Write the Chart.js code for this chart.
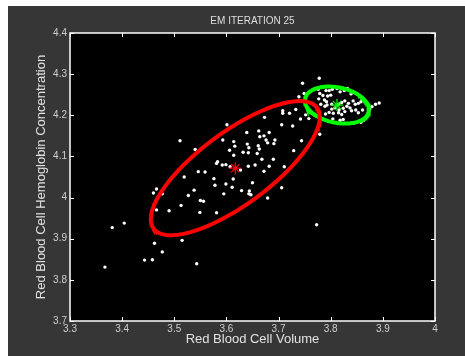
<!DOCTYPE html>
<html>
<head>
<meta charset="utf-8">
<script src="https://cdn.jsdelivr.net/npm/chart.js@4/dist/chart.umd.min.js"></script>
<style>
html,body{margin:0;padding:0;background:#fff;}
canvas{display:block;}
</style>
</head>
<body>
<canvas id="c" width="465" height="356"></canvas>
<script>
// ---- data ----
const chartTitle = 'EM ITERATION 25';
const xAxisTitle = 'Red Blood Cell Volume';
const yAxisTitle = 'Red Blood Cell Hemoglobin Concentration';
const xTicks = [3.3, 3.4, 3.5, 3.6, 3.7, 3.8, 3.9, 4.0];
const yTicks = [3.7, 3.8, 3.9, 4.0, 4.1, 4.2, 4.3, 4.4];

const volume = [
 3.511,3.540,3.601,3.639,3.662,3.593,3.614,3.616,3.606,3.614,3.632,3.640,3.643,3.642,3.661,3.663,3.659,
 3.583,3.581,3.592,3.599,3.607,3.627,3.642,3.655,3.519,3.546,3.559,3.576,3.613,3.673,3.708,3.708,3.721,
 3.733,3.742,3.752,3.739,3.706,3.727,3.744,3.682,3.664,3.672,3.676,3.679,3.693,3.691,3.668,3.690,3.729,
 3.682,3.711,3.672,3.599,3.578,3.611,3.629,3.644,3.643,3.647,3.650,3.595,3.538,3.527,3.466,3.460,3.477,
 3.550,3.556,3.513,3.490,3.466,3.549,3.581,3.404,3.381,3.515,3.462,3.477,3.443,3.458,3.543,3.367,3.679,
 3.706,3.773,3.779,3.758,
 3.746,3.778,3.749,3.783,3.893,3.858,3.863,
 3.776,3.791,3.797,3.803,3.812,3.818,3.826,3.832,3.839,3.779,3.785,3.794,3.800,3.777,3.788,3.792,3.781,
 3.789,3.793,3.802,3.815,3.821,3.827,3.834,3.843,3.847,3.853,3.858,3.831,3.837,3.824,3.816,3.802,3.808,
 3.797,3.805,3.815,3.821,3.827,3.840,3.848,3.853,3.818,3.824,3.790,3.804,3.861,3.875,3.879,3.886,3.873,
 3.871,3.866
];
const hemoglobin = [
 4.138,4.117,4.177,4.158,4.162,4.140,4.136,4.125,4.115,4.103,4.110,4.130,4.121,4.109,4.126,4.118,4.107,
 4.087,4.083,4.079,4.080,4.075,4.067,4.076,4.079,4.050,4.063,4.062,4.046,4.045,4.195,4.211,4.205,4.205,
 4.214,4.191,4.201,4.245,4.177,4.174,4.138,4.158,4.148,4.150,4.140,4.133,4.140,4.131,4.093,4.093,4.114,
 4.076,4.075,4.064,4.033,4.030,4.025,4.017,4.016,4.009,4.007,4.036,4.009,4.018,4.005,4.021,4.011,4.009,
 3.993,3.991,3.981,3.968,3.970,3.964,3.963,3.938,3.927,3.896,3.889,3.868,3.848,3.849,3.839,3.831,3.999,
 4.024,3.934,4.154,4.192,
 4.278,4.290,4.253,4.269,4.230,4.183,4.188,
 4.263,4.260,4.260,4.263,4.265,4.257,4.260,4.265,4.252,4.253,4.248,4.247,4.249,4.240,4.237,4.233,4.227,
 4.222,4.225,4.227,4.227,4.231,4.235,4.229,4.235,4.227,4.229,4.233,4.222,4.218,4.217,4.213,4.215,4.218,
 4.207,4.205,4.206,4.202,4.209,4.211,4.213,4.206,4.188,4.190,4.203,4.191,4.213,4.215,4.221,4.227,4.209,
 4.204,4.192
];

// fitted Gaussian components (mean, spread along x/y, correlation)
const redMean = [3.617, 4.0715];
const redSpread = [0.162, 0.163];
const redCorr = 0.761;
const greenMean = [3.812, 4.2248];
const greenSpread = [0.0614, 0.0450];
const greenCorr = -0.25;

function contour(mean, spread, rho) {
  const pts = [];
  const n = 180;
  const k = Math.sqrt(1 - rho * rho);
  for (let i = 0; i <= n; i++) {
    const t = 2 * Math.PI * i / n;
    pts.push({
      x: mean[0] + spread[0] * Math.cos(t),
      y: mean[1] + spread[1] * (rho * Math.cos(t) + k * Math.sin(t))
    });
  }
  return pts;
}

const points = volume.map((v, i) => ({x: v, y: hemoglobin[i]}));

const fmt = v => String(Number(v.toFixed(1)));

const framePlugin = {
  id: 'frame',
  afterLayout(chart) {
    const tb = chart.titleBlock;
    if (tb) {
      tb.left = chart.chartArea.left;
      tb.right = chart.chartArea.right;
      tb.width = tb.right - tb.left;
    }
  },
  beforeDraw(chart) {
    const {ctx, chartArea: a, width, height} = chart;
    ctx.save();
    ctx.fillStyle = '#ffffff';
    ctx.fillRect(0, 0, width, height);
    ctx.fillStyle = '#363636';
    ctx.fillRect(8, 6, width - 8, height - 6);
    ctx.fillStyle = '#000000';
    ctx.fillRect(a.left, a.top, a.right - a.left, a.bottom - a.top);
    ctx.restore();
  },
  afterDraw(chart) {
    const {ctx, chartArea: a, scales} = chart;
    const xs = scales.x, ys = scales.y;
    ctx.save();
    ctx.strokeStyle = '#ffffff';
    ctx.lineWidth = 1.5;
    ctx.beginPath();
    ctx.rect(a.left, a.top, a.right - a.left, a.bottom - a.top);
    ctx.stroke();
    ctx.lineWidth = 1;
    const tl = 4;
    ctx.beginPath();
    xTicks.forEach(v => {
      const p = Math.round(xs.getPixelForValue(v)) + 0.5;
      ctx.moveTo(p, a.bottom); ctx.lineTo(p, a.bottom - tl);
      ctx.moveTo(p, a.top); ctx.lineTo(p, a.top + tl);
    });
    yTicks.forEach(v => {
      const p = Math.round(ys.getPixelForValue(v)) + 0.5;
      ctx.moveTo(a.left, p); ctx.lineTo(a.left + tl, p);
      ctx.moveTo(a.right, p); ctx.lineTo(a.right - tl, p);
    });
    ctx.stroke();
    ctx.restore();
  }
};

Chart.defaults.font.family = "'Liberation Sans', Arial, sans-serif";

new Chart(document.getElementById('c'), {
  type: 'scatter',
  data: {
    datasets: [
      {
        label: 'centre 1', data: [{x: redMean[0], y: redMean[1]}],
        pointStyle: 'star', pointRadius: 6, borderColor: '#ff0000', backgroundColor: '#ff0000',
        borderWidth: 1.2, order: 1
      },
      {
        label: 'centre 2', data: [{x: greenMean[0], y: greenMean[1]}],
        pointStyle: 'star', pointRadius: 6, borderColor: '#00ff00', backgroundColor: '#00ff00',
        borderWidth: 1.2, order: 1
      },
      {
        label: 'component 1', data: contour(redMean, redSpread, redCorr),
        showLine: true, borderColor: '#ff0000', borderWidth: 4, pointRadius: 0, fill: false,
        tension: 0, order: 2
      },
      {
        label: 'component 2', data: contour(greenMean, greenSpread, greenCorr),
        showLine: true, borderColor: '#00ff00', borderWidth: 4, pointRadius: 0, fill: false,
        tension: 0, order: 2
      },
      {
        label: 'samples', data: points,
        pointRadius: 1.7, backgroundColor: '#ffffff', borderWidth: 0, order: 3
      }
    ]
  },
  options: {
    responsive: false,
    animation: false,
    devicePixelRatio: 1,
    layout: {padding: {left: 0, right: 30, top: 0, bottom: 0}},
    plugins: {
      legend: {display: false},
      tooltip: {enabled: false},
      title: {
        display: true, text: chartTitle, color: '#dedede',
        font: {size: 10, weight: 'normal'}, padding: {top: 15, bottom: 6}
      }
    },
    scales: {
      x: {
        type: 'linear', min: 3.3, max: 4.0,
        grid: {display: false, drawTicks: false},
        border: {display: false},
        afterBuildTicks: s => { s.ticks = xTicks.map(v => ({value: v})); },
        afterFit: s => { s.height = 35; },
        ticks: {color: '#cfcfcf', font: {size: 10}, padding: 2, maxRotation: 0, autoSkip: false, callback: v => fmt(v)},
        title: {display: true, text: xAxisTitle, color: '#e2e2e2', font: {size: 13}, padding: {top: 0, bottom: 9}}
      },
      y: {
        type: 'linear', min: 3.7, max: 4.4,
        grid: {display: false, drawTicks: false},
        border: {display: false},
        afterBuildTicks: s => { s.ticks = yTicks.map(v => ({value: v})); },
        afterFit: s => { s.width = 70; },
        ticks: {color: '#cfcfcf', font: {size: 10}, padding: 3, autoSkip: false, callback: v => fmt(v)},
        title: {display: true, text: yAxisTitle, color: '#e2e2e2', font: {size: 13}, padding: {top: 34, bottom: 0}}
      }
    }
  },
  plugins: [framePlugin]
});
</script>
</body>
</html>
